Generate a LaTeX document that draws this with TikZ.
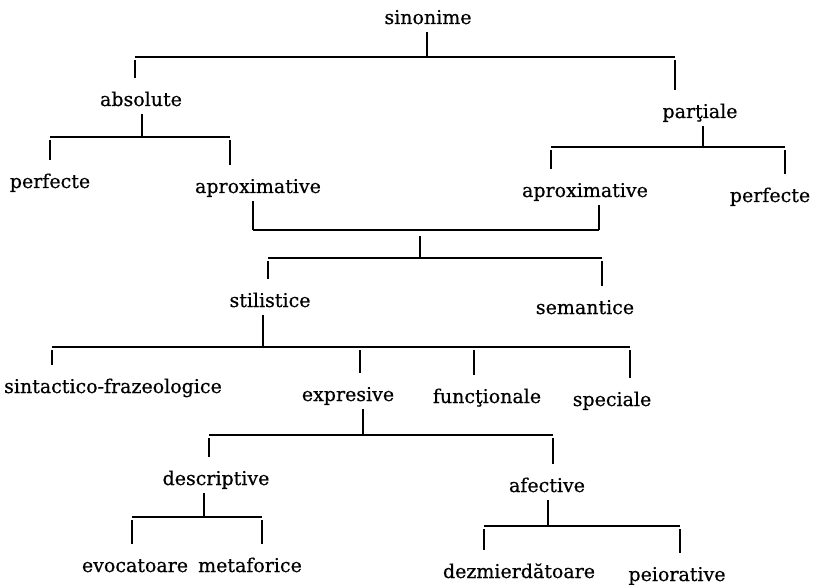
\documentclass[tikz,border=0pt]{standalone}
\usepackage{fontspec}
\setmainfont{DejaVu Serif}
\newfontfamily\treefont{DejaVu Serif}[FakeBold=0.6]
\usetikzlibrary{calc}

\begin{document}
\begin{tikzpicture}[x=1pt, y=-1pt,
  term/.style={anchor=base, inner sep=0pt, text height=14pt, text depth=4pt,
               font=\treefont\fontsize{19}{22}\selectfont},
  bar/.style={line width=1.1pt},
  stem/.style={line width=1.3pt, shorten <=4pt},
  drop/.style={line width=1.3pt, shorten <=3pt, shorten >=14pt}
]
  \useasboundingbox (0,0) rectangle (835,585);

  \node[term] (sin)    at (428,24)  {sinonime};
  \node[term] (abs)    at (141,106) {absolute};
  \node[term] (part)   at (700,118) {parţiale};
  \node[term] (perfL)  at (50,188)  {perfecte};
  \node[term] (aproxL) at (258,193) {aproximative};
  \node[term] (aproxR) at (585,197) {aproximative};
  \node[term] (perfR)  at (770,202) {perfecte};
  \node[term] (stil)   at (270,307) {stilistice};
  \node[term] (sem)    at (585,314) {semantice};
  \node[term] (sint)   at (113,393) {sintactico-frazeologice};
  \node[term] (expr)   at (348,401) {expresive};
  \node[term] (func)   at (487,403) {funcţionale};
  \node[term] (spec)   at (612,406) {speciale};
  \node[term] (descr)  at (216,485) {descriptive};
  \node[term] (afect)  at (547,492) {afective};
  \node[term] (evoc)   at (135,572) {evocatoare};
  \node[term] (metaf)  at (250,572) {metaforice};
  \node[term] (dezm)   at (519,578) {dezmierdătoare};
  \node[term] (peior)  at (677,581) {peiorative};

  % sinonime -> absolute / partiale
  \coordinate (b1s) at (427,57);
  \coordinate (b1a) at (135,57);
  \coordinate (b1b) at (675,57);
  \draw[bar] (b1a) -- (b1b);
  \draw[stem] (sin.south -| b1s) -- (b1s);
  \draw[drop] (b1a) -- (b1a |- abs.north);
  \draw[drop] (b1b) -- (b1b |- part.north);

  % absolute
  \coordinate (b2s) at (142,137);
  \coordinate (b2a) at (50,137);
  \coordinate (b2b) at (230,137);
  \draw[bar] (b2a) -- (b2b);
  \draw[stem] (abs.south -| b2s) -- (b2s);
  \draw[drop] (b2a) -- (b2a |- perfL.north);
  \draw[drop] (b2b) -- (b2b |- aproxL.north);

  % partiale
  \coordinate (b3s) at (703,147);
  \coordinate (b3a) at (551,147);
  \coordinate (b3b) at (785,147);
  \draw[bar] (b3a) -- (b3b);
  \draw[stem] (part.south -| b3s) -- (b3s);
  \draw[drop] (b3a) -- (b3a |- aproxR.north);
  \draw[drop] (b3b) -- (b3b |- perfR.north);

  % aproximative + aproximative
  \coordinate (b4a) at (253,230);
  \coordinate (b4b) at (599,230);
  \coordinate (b4s) at (420,230);
  \draw[bar] (b4a) -- (b4b);
  \draw[stem] (aproxL.south -| b4a) -- (b4a);
  \draw[stem] (aproxR.south -| b4b) -- (b4b);

  % stilistice / semantice
  \coordinate (b5s) at (420,258);
  \coordinate (b5a) at (268,258);
  \coordinate (b5b) at (602,258);
  \draw[bar] (b5a) -- (b5b);
  \draw[stem, shorten <=6pt] (b4s) -- (b5s);
  \draw[drop] (b5a) -- (b5a |- stil.north);
  \draw[drop] (b5b) -- (b5b |- sem.north);

  % stilistice
  \coordinate (b6s) at (263,347);
  \coordinate (b6a) at (52,347);
  \coordinate (b6b) at (360,347);
  \coordinate (b6c) at (474,347);
  \coordinate (b6d) at (630,347);
  \draw[bar] (b6a) -- (b6d);
  \draw[stem] (stil.south -| b6s) -- (b6s);
  \draw[drop] (b6a) -- (b6a |- sint.north);
  \draw[drop] (b6b) -- (b6b |- expr.north);
  \draw[drop] (b6c) -- (b6c |- func.north);
  \draw[drop] (b6d) -- (b6d |- spec.north);

  % expresive
  \coordinate (b7s) at (363,435);
  \coordinate (b7a) at (209,435);
  \coordinate (b7b) at (553,435);
  \draw[bar] (b7a) -- (b7b);
  \draw[stem] (expr.south -| b7s) -- (b7s);
  \draw[drop] (b7a) -- (b7a |- descr.north);
  \draw[drop] (b7b) -- (b7b |- afect.north);

  % descriptive
  \coordinate (b8s) at (204,517);
  \coordinate (b8a) at (132,517);
  \coordinate (b8b) at (262,517);
  \draw[bar] (b8a) -- (b8b);
  \draw[stem] (descr.south -| b8s) -- (b8s);
  \draw[drop] (b8a) -- (b8a |- evoc.north);
  \draw[drop] (b8b) -- (b8b |- metaf.north);

  % afective
  \coordinate (b9s) at (548,526);
  \coordinate (b9a) at (484,526);
  \coordinate (b9b) at (680,526);
  \draw[bar] (b9a) -- (b9b);
  \draw[stem] (afect.south -| b9s) -- (b9s);
  \draw[drop] (b9a) -- (b9a |- dezm.north);
  \draw[drop] (b9b) -- (b9b |- peior.north);
\end{tikzpicture}
\end{document}
